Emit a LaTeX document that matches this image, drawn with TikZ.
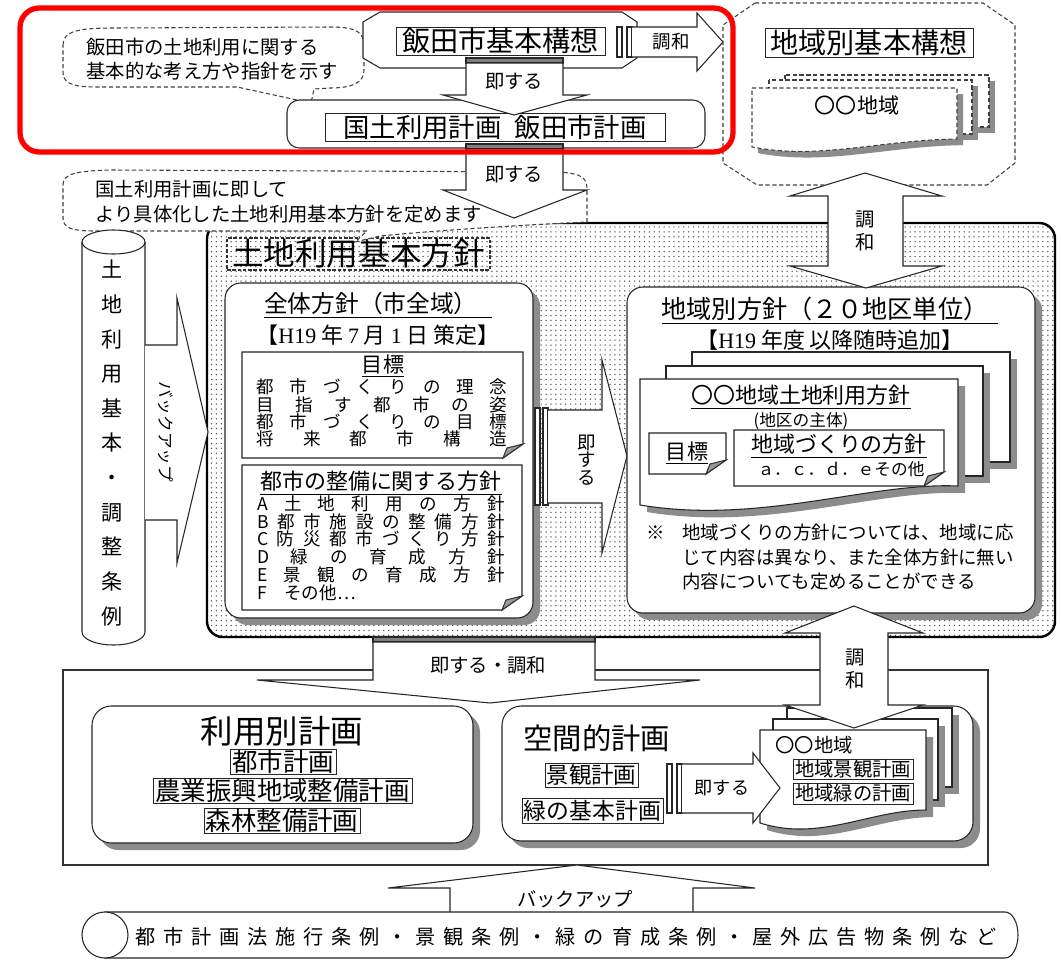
\documentclass[tikz,border=0pt]{standalone}
\usepackage{fontspec}
\setmainfont{Noto Sans CJK JP}
\newfontfamily\mincho{Liberation Serif}
\usepackage{tikz}
\usetikzlibrary{fit,shadows,patterns.meta}
\newcommand{\fs}[2]{\fontsize{#1pt}{#2pt}\selectfont}
% note paper with a folded corner
\newcommand{\fold}[4]{%
  \draw[wbox] (#1,#2) -- (#3,#2) -- (#3,#4-14) -- (#3-20,#4) -- (#1,#4) -- cycle;
  \filldraw[draw=black!80,fill=black!40] (#3-20,#4) -- (#3-16,#4-10) -- (#3,#4-14) -- cycle;}

\begin{document}
\begin{tikzpicture}[x=0.02cm,y=-0.02cm,line width=0.6pt,
                    every node/.style={inner sep=0pt}]
  \tikzstyle{wbox}=[draw=black!85,fill=white]
  \tikzstyle{rbox}=[wbox,rounded corners=9pt]
  \tikzstyle{shadowed}=[drop shadow={shadow xshift=4pt,shadow yshift=-4pt,fill=black!45,opacity=1}]
  \tikzstyle{tbox}=[draw=black!85,fill=white,line width=0.5pt]
  \tikzstyle{memo}=[draw=black!75,fill=white,dash pattern=on 2.4pt off 1.5pt]
  \tikzstyle{sheet}=[wbox,shadowed]
  \tikzstyle{dsheet}=[memo,drop shadow={shadow xshift=3.5pt,shadow yshift=-3.5pt,fill=black!45,opacity=1}]
  \tikzstyle{blockarr}=[wbox,line join=miter]
  \tikzstyle{gbar}=[draw=black!85,fill=black!50]
  \tikzstyle{sbar}=[draw=black!85,fill=white]

  \fill[white] (0,0) rectangle (1061,960);
  \useasboundingbox (0,0) rectangle (1061,960);

  % dotted area
  \node[fit={(207,223) (1055,637)},draw=black,line width=1.4pt,rounded corners=9pt,
        preaction={fill=white},pattern={Dots[distance=2.8pt,radius=0.42pt]},
        pattern color=black!70] (base) {};
  \node[draw=black!80,dash pattern=on 2pt off 1pt,fit={(227,238) (490,270)}] (baseB) {};
  \node[font=\fs{18}{18}] (baseT) at (baseB) {土地利用基本方針};

  \draw[memo] (63,185) .. controls (63,174) and (75,171) .. (110,170) -- (560,172)
        .. controls (583,174) and (587,178) .. (587,190) -- (587,222)
        .. controls (500,226) and (420,232) .. (380,236) -- (355,242) -- (367,231)
        -- (95,231) .. controls (72,231) and (63,228) .. (63,218) -- cycle;
  \node[anchor=west,align=left,font=\fs{11}{14.2}] (memo2) at (95,202)
        {国土利用計画に即して\\より具体化した土地利用基本方針を定めます};

  % ordinance column
  \draw[wbox] (82,242) -- (82,632) arc[start angle=180,end angle=0,x radius=31.5,y radius=13]
        -- (145,242) arc[start angle=0,end angle=-180,x radius=31.5,y radius=12] -- cycle;
  \draw[draw=black!85] (82,242) arc[start angle=180,end angle=0,x radius=31.5,y radius=12];
  \node[align=center,font=\fs{12}{19.7}] (jorei) at (112,443)
        {土\\地\\利\\用\\基\\本\\・\\調\\整\\条\\例};
  \draw[blockarr] (145,345) -- (177,345) -- (177,298) -- (208,432) -- (177,563)
        -- (177,520) -- (145,520);
  \node[rotate=-90,font=\fs{9.5}{9.5}] (backup1) at (166,432) {バックアップ};

  % overall policy
  \node[rbox,shadowed,fit={(225,283) (533,618)}] (zentai) {};
  \node[font=\fs{13.5}{13.5}] (zentaiT) at (378,305) {\underline{全体方針（市全域）\kern0.6em}};
  \node[font=\fs{12.5}{12.5}] (sakutei) at (378,335)
        {【{\mincho H19} 年 {\mincho 7} 月 {\mincho 1} 日 策定】};
  \fold{242}{352}{523}{458}
  \node[font=\fs{12}{12}] (mokuA) at (383,366) {\underline{目標}};
  \node[align=center,font=\fs{10}{9.9}] (mokuAL) at (382,413)
        {\makebox[5.02cm][s]{都 市 づ く り の 理 念}\\
         \makebox[5.02cm][s]{目 指 す 都 市 の 姿}\\
         \makebox[5.02cm][s]{都 市 づ く り の 目 標}\\
         \makebox[5.02cm][s]{将 来 都 市 構 造}};
  \fold{242}{465}{522}{610}
  \node[font=\fs{12.5}{12.5}] (seibi) at (381,483) {\underline{都市の整備に関する方針}};
  \node[align=center,font=\fs{10}{10.1}] (seibiL) at (381,548)
        {\makebox[4.96cm][s]{A 土 地 利 用 の 方 針}\\
         \makebox[4.96cm][s]{B 都 市 施 設 の 整 備 方 針}\\
         \makebox[4.96cm][s]{C 防 災 都 市 づ く り 方 針}\\
         \makebox[4.96cm][s]{D 緑 の 育 成 方 針}\\
         \makebox[4.96cm][s]{E 景 観 の 育 成 方 針}\\
         \makebox[4.96cm][l]{F\hspace{1em}その他…}};

  \draw[sbar] (535,408) rectangle (540,505) (543,408) rectangle (548,505);
  \draw[blockarr] (548,410) -- (602,410) -- (602,360) -- (627,456) -- (602,553)
        -- (602,503) -- (548,503);
  \node[align=center,font=\fs{10.5}{10}] (sokuM) at (587,460) {即\\す\\る};

  % regional policy
  \node[rbox,shadowed,fit={(627,287) (1035,613)}] (chiiki) {};
  \node[font=\fs{14.3}{14.3}] (chiikiT) at (830,311) {\underline{地域別方針（２０地区単位）\kern0.4em}};
  \node[font=\fs{12.5}{12.5}] (tsuika) at (830,340) {【{\mincho H19} 年度\ 以降随時追加】};
  \draw[sheet] (692,352) rectangle (1010,462);
  \draw[sheet] (666,366) rectangle (983,476);
  \draw[sheet] (640,379) -- (958,379) -- (958,486) .. controls (870,482) and (760,525) .. (640,505) -- cycle;
  \node[font=\fs{12.5}{12.5}] (chiikiF) at (801,397) {\underline{〇〇地域土地利用方針}};
  \node[font=\fs{9.5}{9.5}] (shutai) at (801,421) {(地区の主体)};
  \fold{649}{433}{726}{474}
  \node[font=\fs{12}{12}] (mokuB) at (687,453) {\underline{目標}};
  \fold{734}{430}{944}{486}
  \node[font=\fs{12.5}{12.5}] (zukuri) at (839,446) {\underline{地域づくりの方針}};
  \node[font=\fs{9.5}{9.5}] (sonota) at (841,469) {ａ．ｃ．ｄ．ｅその他};
  \node[font=\fs{10.5}{10.5}] (kome) at (656,533) {※};
  \node[anchor=west,align=left,font=\fs{10.5}{14}] (chui) at (682,557)
        {地域づくりの方針については、地域に応\\じて内容は異なり、また全体方針に無い\\内容についても定めることができる};

  % city vision
  \draw[memo] (63,45) .. controls (63,31) and (78,28) .. (115,28) -- (330,27)
        .. controls (358,27) and (364,33) .. (364,46) -- (364,70)
        .. controls (364,83) and (352,88) .. (330,88) -- (314,89) -- (311,103)
        -- (237,87) -- (95,87) .. controls (70,87) and (63,82) .. (63,72) -- cycle;
  \node[anchor=west,align=left,font=\fs{11}{13.7}] (memo1) at (86,59)
        {飯田市の土地利用に関する\\基本的な考え方や指針を示す};
  \draw[wbox] (380,12) -- (622,12) -- (637,22) -- (637,58) -- (622,68) -- (380,68)
        -- (363,58) -- (363,22) -- cycle;
  \node[tbox,fit={(396,27) (605,55)}] (kihonB) {};
  \node[font=\fs{16}{16}] (kihon) at (kihonB) {飯田市基本構想};
  \draw[sbar] (617,27) rectangle (622,57) (627,27) rectangle (632,57);
  \draw[blockarr] (632,27) -- (697,27) -- (697,13) -- (723,42) -- (697,71) -- (697,57) -- (632,57);
  \node[font=\fs{10.5}{10.5}] (chowa1) at (671,42) {調和};
  \node[rbox,rounded corners=7pt,fit={(287,100) (705,148)}] (kokudoO) {};
  \node[tbox,fit={(325,113) (665,141)}] (kokudoB) {};
  \node[font=\fs{15}{15}] (kokudo) at (kokudoB) {国土利用計画\hspace{0.5em}飯田市計画};
  \filldraw[gbar] (466,58) rectangle (563,63);
  \draw[blockarr] (466,63) -- (563,63) -- (563,95) -- (587,95) -- (514,115) -- (443,95) -- (466,95) -- cycle;
  \node[font=\fs{11}{11}] (soku1) at (514,82) {即する};
  \filldraw[gbar] (466,144) rectangle (563,149);
  \draw[blockarr] (466,149) -- (563,149) -- (563,190) -- (587,190) -- (514,218) -- (443,190) -- (466,190) -- cycle;
  \node[font=\fs{11}{11}] (soku2) at (514,175) {即する};

  % regional vision
  \draw[memo] (755,3) -- (983,3) -- (1015,25) -- (1015,163) -- (987,185) -- (757,185)
        -- (723,163) -- (723,25) -- cycle;
  \node[tbox,fit={(765,28) (973,57)}] (chiikiKB) {};
  \node[font=\fs{16}{16}] (chiikiK) at (chiikiKB) {地域別基本構想};
  \draw[dsheet] (785,75) rectangle (989,127);
  \draw[dsheet] (769,80) rectangle (972,134);
  \draw[dsheet] (752,88) -- (957,88) -- (957,139) .. controls (880,140) and (820,160) .. (752,147) -- cycle;
  \node[font=\fs{12}{12}] (maruA) at (857,105) {〇〇地域};
  \draw[blockarr] (828,196) -- (790,196) -- (865,173) -- (942,196) -- (903,196) -- (903,266)
        -- (942,266) -- (866,288) -- (790,266) -- (828,266) -- cycle;
  \node[align=center,font=\fs{11}{13}] (chowa2) at (865,231) {調\\和};

  % plans
  \node[draw=black!80,fit={(63,670) (988,865)}] (keikaku) {};
  \filldraw[gbar] (373,637) rectangle (595,642);
  \draw[blockarr] (373,642) -- (595,642) -- (595,680) -- (700,680) -- (490,703) -- (257,680) -- (373,680) -- cycle;
  \node[font=\fs{11}{11}] (sokuC) at (488,665) {即する・調和};
  \node[rbox,rounded corners=11pt,shadowed,fit={(92,706) (473,843)}] (riyou) {};
  \node[font=\fs{18.5}{18.5}] (riyouT) at (282,731) {利用別計画};
  \node[tbox,fit={(230,749) (336,774)}] (toshiB) {};
  \node[font=\fs{14.5}{14.5}] (toshi) at (toshiB) {都市計画};
  \node[tbox,fit={(153,778) (412,803)}] (nogyoB) {};
  \node[font=\fs{14.5}{14.5}] (nogyo) at (nogyoB) {農業振興地域整備計画};
  \node[tbox,fit={(204,808) (360,833)}] (shinrinB) {};
  \node[font=\fs{14.5}{14.5}] (shinrin) at (shinrinB) {森林整備計画};
  \node[rbox,rounded corners=11pt,shadowed,fit={(502,706) (973,841)}] (kukan) {};
  \node[anchor=west,font=\fs{16.7}{16.7}] (kukanT) at (523,738) {空間的計画};
  \node[tbox,fit={(545,763) (638,787)}] (keikanB) {};
  \node[font=\fs{12.8}{12.8}] (keikan) at (keikanB) {景観計画};
  \node[tbox,fit={(522,798) (663,823)}] (midoriB) {};
  \node[font=\fs{13}{13}] (midori) at (midoriB) {緑の基本計画};
  \draw[sheet] (787,708) rectangle (952,787);
  \draw[sheet] (773,719) rectangle (938,800);
  \draw[sheet] (760,730) -- (926,730) -- (926,810) .. controls (870,810) and (820,842) .. (760,823) -- cycle;
  \node[anchor=west,font=\fs{11}{11}] (maruB) at (775,745) {〇〇地域};
  \node[tbox,fit={(793,759) (913,779)}] (chiikiKeiB) {};
  \node[font=\fs{11}{11}] (chiikiKei) at (chiikiKeiB) {地域景観計画};
  \node[tbox,fit={(793,783) (913,804)}] (chiikiMidB) {};
  \node[font=\fs{11}{11}] (chiikiMid) at (chiikiMidB) {地域緑の計画};
  \draw[sbar] (667,764) rectangle (672,813) (677,764) rectangle (682,813);
  \draw[blockarr] (682,764) -- (753,764) -- (753,753) -- (780,788) -- (753,823) -- (753,813) -- (682,813);
  \node[font=\fs{10.3}{10.3}] (sokuB) at (722,788) {即する};
  \draw[blockarr] (820,633) -- (785,633) -- (854,606) -- (923,633) -- (888,633) -- (888,705)
        -- (923,705) -- (854,728) -- (785,705) -- (820,705) -- cycle;
  \node[align=center,font=\fs{11}{13}] (chowa3) at (855,669) {調\\和};

  % ordinances
  \draw[blockarr] (450,912) -- (450,888) -- (388,888) -- (577,865) -- (755,888) -- (693,888) -- (693,912);
  \node[font=\fs{11}{11}] (backup2) at (575,899) {バックアップ};
  \draw[wbox] (105,912) -- (1005,912) arc[start angle=-90,end angle=90,x radius=13,y radius=23]
        -- (105,958) -- cycle;
  \draw[wbox] (105,935) ellipse [x radius=23,y radius=23];
  \node[font=\fs{11.5}{11.5}] (jorei2) at (566,937)
        {\makebox[17.24cm][s]{都 市 計 画 法 施 行 条 例 ・ 景 観 条 例 ・ 緑 の 育 成 条 例 ・ 屋 外 広 告 物 条 例 な ど}};

  % highlight
  \draw[red,line width=3pt,rounded corners=11pt] (20,8) rectangle (733,152);
\end{tikzpicture}
\end{document}
